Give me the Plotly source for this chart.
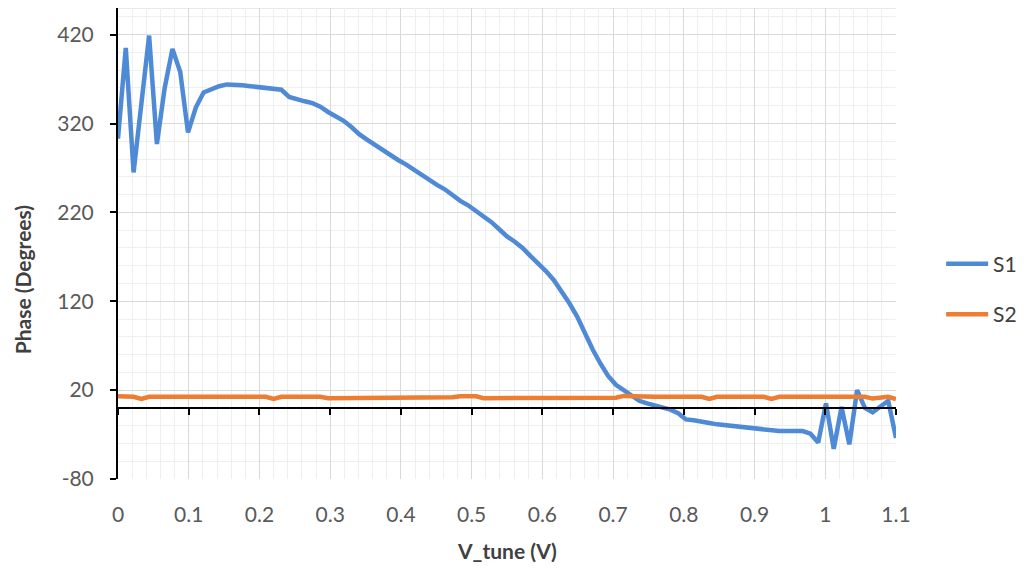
import plotly.graph_objects as go

v_tune = [0, 0.011, 0.022, 0.033, 0.044, 0.055, 0.066, 0.077, 0.088, 0.099,
          0.11, 0.121, 0.132, 0.143, 0.154, 0.165, 0.176, 0.187, 0.198, 0.209,
          0.22, 0.231, 0.242, 0.253, 0.264, 0.275, 0.286, 0.297, 0.308, 0.319,
          0.33, 0.341, 0.352, 0.363, 0.374, 0.385, 0.396, 0.407, 0.418, 0.429,
          0.44, 0.451, 0.462, 0.473, 0.484, 0.495, 0.506, 0.517, 0.528, 0.539,
          0.55, 0.561, 0.572, 0.583, 0.594, 0.605, 0.616, 0.627, 0.638, 0.649,
          0.66, 0.671, 0.682, 0.693, 0.704, 0.715, 0.726, 0.737, 0.748, 0.759,
          0.77, 0.781, 0.792, 0.803, 0.814, 0.825, 0.836, 0.847, 0.858, 0.869,
          0.88, 0.891, 0.902, 0.913, 0.924, 0.935, 0.946, 0.957, 0.968, 0.979,
          0.99, 1.001, 1.012, 1.023, 1.034, 1.045, 1.056, 1.067, 1.078, 1.089, 1.1]

s1 = [303, 405, 265, 345, 419, 297, 360, 404, 378, 310,
      338, 355, 359, 362, 364, 364, 363, 362, 361, 361,
      359, 358, 350, 347, 345, 343, 339, 333, 328, 323,
      316, 308, 302, 296, 290, 285, 279, 274, 268, 263,
      257, 251, 246, 239, 233, 228, 222, 215, 209, 201,
      193, 187, 180, 171, 163, 154, 144, 132, 118, 103,
      84, 66, 50, 36, 26, 20, 13, 8, 5, 3,
      1, -2, -6, -13, -14, -16, -17, -18.5, -19.5, -20.5,
      -21.5, -22.5, -23.5, -24.5, -25.5, -26, -26, -26, -26, -29,
      -39, 5, -46, 1, -41, 20, 0, -5, 1, 8, -34]

s2 = [13, 13, 12.5, 10, 12.5, 12.5, 12.5, 12.5, 12.5, 12.5,
      12.5, 12.5, 12.5, 12.5, 12.5, 12.5, 12.5, 12.5, 12.5, 12.5,
      10, 12.5, 12.5, 12.5, 12.5, 12.5, 12.5, 11, 11, 11,
      11, 11, 11, 11, 11, 11, 11, 11, 11, 11,
      11, 11, 11, 12, 13, 13, 13, 11, 11, 11,
      11, 11, 11, 11, 11, 11, 11, 11, 11, 11,
      11, 11, 11, 11, 11.5, 13.5, 13, 12.5, 12.5, 12.5,
      12.5, 12.5, 12.5, 12.5, 12.5, 12.5, 10, 12.5, 12.5, 12.5,
      12.5, 12.5, 12.5, 12.5, 10, 12.5, 12.5, 12.5, 12.5, 12.5,
      12.5, 12.5, 12.5, 12.5, 12.5, 12.5, 12.5, 10.5, 11, 12.5, 10]

x_ticks = [0, 0.1, 0.2, 0.3, 0.4, 0.5, 0.6, 0.7, 0.8, 0.9, 1, 1.1]
x_tick_labels = ["0", "0.1", "0.2", "0.3", "0.4", "0.5", "0.6", "0.7", "0.8", "0.9", "1", "1.1"]
y_ticks = [-80, 20, 120, 220, 320, 420]
y_tick_labels = ["-80", "20", "120", "220", "320", "420"]
Y_MIN, Y_MAX = -80, 450

FONT = "Lato"
GRAY = "#595959"

fig = go.Figure()
fig.add_trace(go.Scatter(x=v_tune, y=s1, mode="lines", name="S1",
                         line=dict(color="#4F8AD6", width=4.5),
                         legendgroup="a"))
fig.add_trace(go.Scatter(x=v_tune, y=s2, mode="lines", name="S2",
                         line=dict(color="#ED7D31", width=4.5),
                         legendgroup="b"))
# helper trace so that the crossing axis at y=0 is drawn
fig.add_trace(go.Scatter(x=[x_ticks[0], x_ticks[-1]], y=[0, 0], xaxis="x2",
                         mode="lines", line=dict(width=0), showlegend=False,
                         hoverinfo="skip"))

zero_pos = (0 - Y_MIN) / (Y_MAX - Y_MIN)

fig.update_layout(
    width=1016, height=561,
    margin=dict(l=110, r=128, t=0, b=90),
    paper_bgcolor="white", plot_bgcolor="white",
    font=dict(family=FONT, size=21, color=GRAY),
    xaxis=dict(range=[x_ticks[0], x_ticks[-1]], tickvals=x_ticks, ticktext=x_tick_labels,
               showline=False, ticks="", zeroline=False,
               showgrid=True, gridcolor="#d9d9d9", gridwidth=1.3,
               minor=dict(dtick=0.02, showgrid=True, gridcolor="#efefef", gridwidth=1),
               tickfont=dict(size=21, color=GRAY), ticklabelstandoff=21),
    xaxis2=dict(range=[x_ticks[0], x_ticks[-1]], overlaying="x", anchor="free",
                position=zero_pos, side="bottom", tickvals=x_ticks,
                showticklabels=False, showgrid=False, zeroline=False,
                showline=True, linecolor="black", linewidth=2,
                ticks="outside", ticklen=6, tickwidth=2, tickcolor="black"),
    yaxis=dict(range=[Y_MIN, Y_MAX], tickvals=y_ticks, ticktext=y_tick_labels,
               showline=True, linecolor="black", linewidth=2,
               ticks="outside", ticklen=6, tickwidth=2, tickcolor="black",
               zeroline=False,
               showgrid=True, gridcolor="#d9d9d9", gridwidth=1.3,
               minor=dict(tick0=-80, dtick=20, showgrid=True, gridcolor="#efefef", gridwidth=1),
               tickfont=dict(size=21, color=GRAY), ticklabelstandoff=12),
    legend=dict(x=1.058, xanchor="left", y=0.403, yanchor="middle",
                traceorder="grouped", tracegroupgap=20, itemwidth=42,
                font=dict(family=FONT, size=21, color="#404040"),
                bgcolor="rgba(0,0,0,0)"),
    shapes=[dict(type="line", xref="paper", yref="y", x0=0, x1=1,
                 y0=Y_MAX, y1=Y_MAX, line=dict(color="#e0e0e0", width=1.3),
                 layer="below")],
    annotations=[
        dict(text="<b>Phase (Degrees)</b>", xref="paper", yref="paper",
             x=-0.123, y=0.4225, textangle=-90, showarrow=False,
             xanchor="center", yanchor="middle",
             font=dict(family=FONT, size=21, color="#404040")),
        dict(text="<b>V_tune (V)</b>", xref="paper", yref="paper",
             x=0.5, y=-0.151, showarrow=False, xanchor="center", yanchor="middle",
             font=dict(family=FONT, size=21, color="#404040")),
    ],
)

fig.write_html("out.html")
